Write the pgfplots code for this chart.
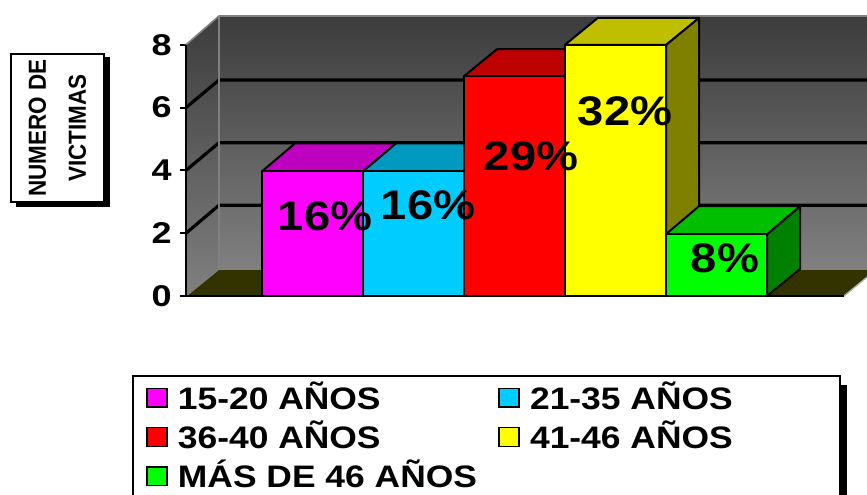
\documentclass[border=0pt]{standalone}
\usepackage{pgfplots}
\pgfplotsset{compat=1.18}
\usepackage{fontspec}
\setmainfont{Liberation Sans}
\newfontfamily\pctf[FakeStretch=1.14]{Liberation Sans}
\newfontfamily\tickf[FakeStretch=1.2]{Liberation Sans}
\newfontfamily\legf[FakeStretch=1.14]{Liberation Sans}
\newfontfamily\ylabf[FakeStretch=0.91]{Liberation Sans}
\definecolor{wtop}{HTML}{3C3C3C}
\definecolor{wbot}{HTML}{808080}
\definecolor{floorc}{HTML}{333300}
\definecolor{cm}{HTML}{FF00FF}\definecolor{cmt}{HTML}{BF00BF}
\definecolor{cc}{HTML}{00CCFF}\definecolor{cct}{HTML}{0099BF}
\definecolor{cr}{HTML}{FF0000}\definecolor{crt}{HTML}{BF0000}
\definecolor{cy}{HTML}{FFFF00}\definecolor{cyt}{HTML}{BFBF00}\definecolor{cys}{HTML}{808000}
\definecolor{cg}{HTML}{00FF00}\definecolor{cgt}{HTML}{00BF00}\definecolor{cgs}{HTML}{008000}
\tikzset{
  pct/.style={font=\fontsize{31}{33}\selectfont\pctf\bfseries,inner sep=0pt}
}
\pgfplotsset{
  barline/.style={draw=black,line width=1.5pt,line join=round,forget plot},
  grid3d/.style={draw=black,line width=2.4pt,forget plot},
  swatch/.style={legend image code/.code={\draw[draw=black,line width=1.1pt,fill=#1] (0pt,-8pt) rectangle (15pt,6pt);\path (17pt,0pt);}},
}
\begin{document}
\begin{tikzpicture}
\path[use as bounding box] (0,0) rectangle (650.25pt,-371.25pt);
\clip (0,0) rectangle (650.25pt,-371.25pt);
% shadows and boxes
\begin{scope}[x=0.75pt,y=-0.75pt]
\fill[black] (16,57) rectangle (110,207);
\draw[fill=white,draw=black,line width=0.8pt] (11,54) rectangle (104,202);
\fill[black] (140,385) rectangle (847,500);
\draw[fill=white,draw=black,line width=0.8pt] (133,376) rectangle (840,500);
\end{scope}
\begin{axis}[
  at={(139.5pt,-222pt)},anchor=south west,
  scale only axis,width=510.75pt,height=210pt,
  xmin=186,xmax=867,ymin=0,ymax=8.917,
  clip=false,
  axis line style={draw=none},
  xtick=\empty,
  ytick={0,2,4,6,8},ytick pos=left,
  tick align=outside,
  major tick length=4.5pt,
  tick style={black,line width=1.5pt},
  /pgf/number format/assume math mode=true,
  yticklabel style={font=\fontsize{22.5}{24}\selectfont\tickf\bfseries,inner sep=2pt,xshift=-4pt},
  ylabel={NUMERO DE\\VICTIMAS},
  ylabel style={at={(axis description cs:-0.189,0.60)},anchor=center,align=center,
    font=\fontsize{18.5}{30}\selectfont\ylabf\bfseries},
  legend columns=2,
  legend cell align=left,
  legend style={at={(axis cs:146,-2.63)},anchor=north west,draw=none,fill=none,inner sep=0pt,
    font=\fontsize{23.3}{25}\selectfont\legf\bfseries,
    column sep=4pt,row sep=3.2pt},
]
% walls and floor
\addplot[forget plot,draw=none,shade,top color=wtop,bottom color=wbot] coordinates {(219,0.86)(867,0.86)(867,8.917)(219,8.917)(219,0.86)};
\addplot[forget plot,draw=none,shade,top color=wtop,bottom color=wbot] coordinates {(186,0)(219,0.86)(219,8.917)(186,8)(186,0)};
\addplot[forget plot,draw=none,fill=floorc] coordinates {(186,0)(844,0)(867,0.6)(867,0.86)(219,0.86)(186,0)};
% grid lines
\addplot[grid3d] coordinates {(186,2)(219,2.89)(867,2.89)};
\addplot[grid3d] coordinates {(186,4)(219,4.88)(867,4.88)};
\addplot[grid3d] coordinates {(186,6)(219,6.88)(867,6.88)};
\addplot[forget plot,draw=wbot,line width=1.2pt] coordinates {(186,8)(219,8.917)(867,8.917)};
\addplot[forget plot,draw=wbot,line width=1.2pt] coordinates {(219,8.917)(219,0.86)(867,0.86)};
\addplot[forget plot,draw=wbot,line width=1pt] coordinates {(186,0)(219,0.86)};
\addplot[forget plot,draw=wbot!60!white,line width=1pt] coordinates {(844,0)(867,0.6)};
\addplot[forget plot,draw=black,line width=1.5pt] coordinates {(186,8)(186,0)(844,0)};
% bars: 15-20
\addplot[barline,fill=cmt] coordinates {(262,3.97)(363,3.97)(396,4.86)(295,4.86)(262,3.97)};
\addplot[barline,fill=cm] coordinates {(262,0)(363,0)(363,3.97)(262,3.97)(262,0)};
% 21-35
\addplot[barline,fill=cct] coordinates {(363,3.97)(464,3.97)(497,4.86)(396,4.86)(363,3.97)};
\addplot[barline,fill=cc] coordinates {(363,0)(464,0)(464,3.97)(363,3.97)(363,0)};
% 36-40
\addplot[barline,fill=crt] coordinates {(464,7)(565,7)(598,7.86)(497,7.86)(464,7)};
\addplot[barline,fill=cr] coordinates {(464,0)(565,0)(565,7)(464,7)(464,0)};
% 41-46
\addplot[barline,fill=cys] coordinates {(666,0)(699,0.86)(699,8.86)(666,8)(666,0)};
\addplot[barline,fill=cyt] coordinates {(565,8)(666,8)(699,8.86)(598,8.86)(565,8)};
\addplot[barline,fill=cy] coordinates {(565,0)(666,0)(666,8)(565,8)(565,0)};
% > 46
\addplot[barline,fill=cgs] coordinates {(767,0)(800,0.86)(800,2.86)(767,1.97)(767,0)};
\addplot[barline,fill=cgt] coordinates {(666,1.97)(767,1.97)(800,2.86)(699,2.86)(666,1.97)};
\addplot[barline,fill=cg] coordinates {(666,0)(767,0)(767,1.97)(666,1.97)(666,0)};
% legend
\addlegendimage{swatch=cm}\addlegendentry{15-20 AÑOS}
\addlegendimage{swatch=cc}\addlegendentry{21-35 AÑOS}
\addlegendimage{swatch=cr}\addlegendentry{36-40 AÑOS}
\addlegendimage{swatch=cy}\addlegendentry{41-46 AÑOS}
\addlegendimage{swatch=cg}\addlegendentry{MÁS DE 46 AÑOS\rule{10pt}{0pt}}
% labels
\node[pct] at (axis cs:325,2.55) {16\%};
\node[pct] at (axis cs:428,2.90) {16\%};
\node[pct] at (axis cs:531,4.46) {29\%};
\node[pct] at (axis cs:625,5.89) {32\%};
\node[pct] at (axis cs:725,1.20) {8\%};
\end{axis}
\end{tikzpicture}
\end{document}
